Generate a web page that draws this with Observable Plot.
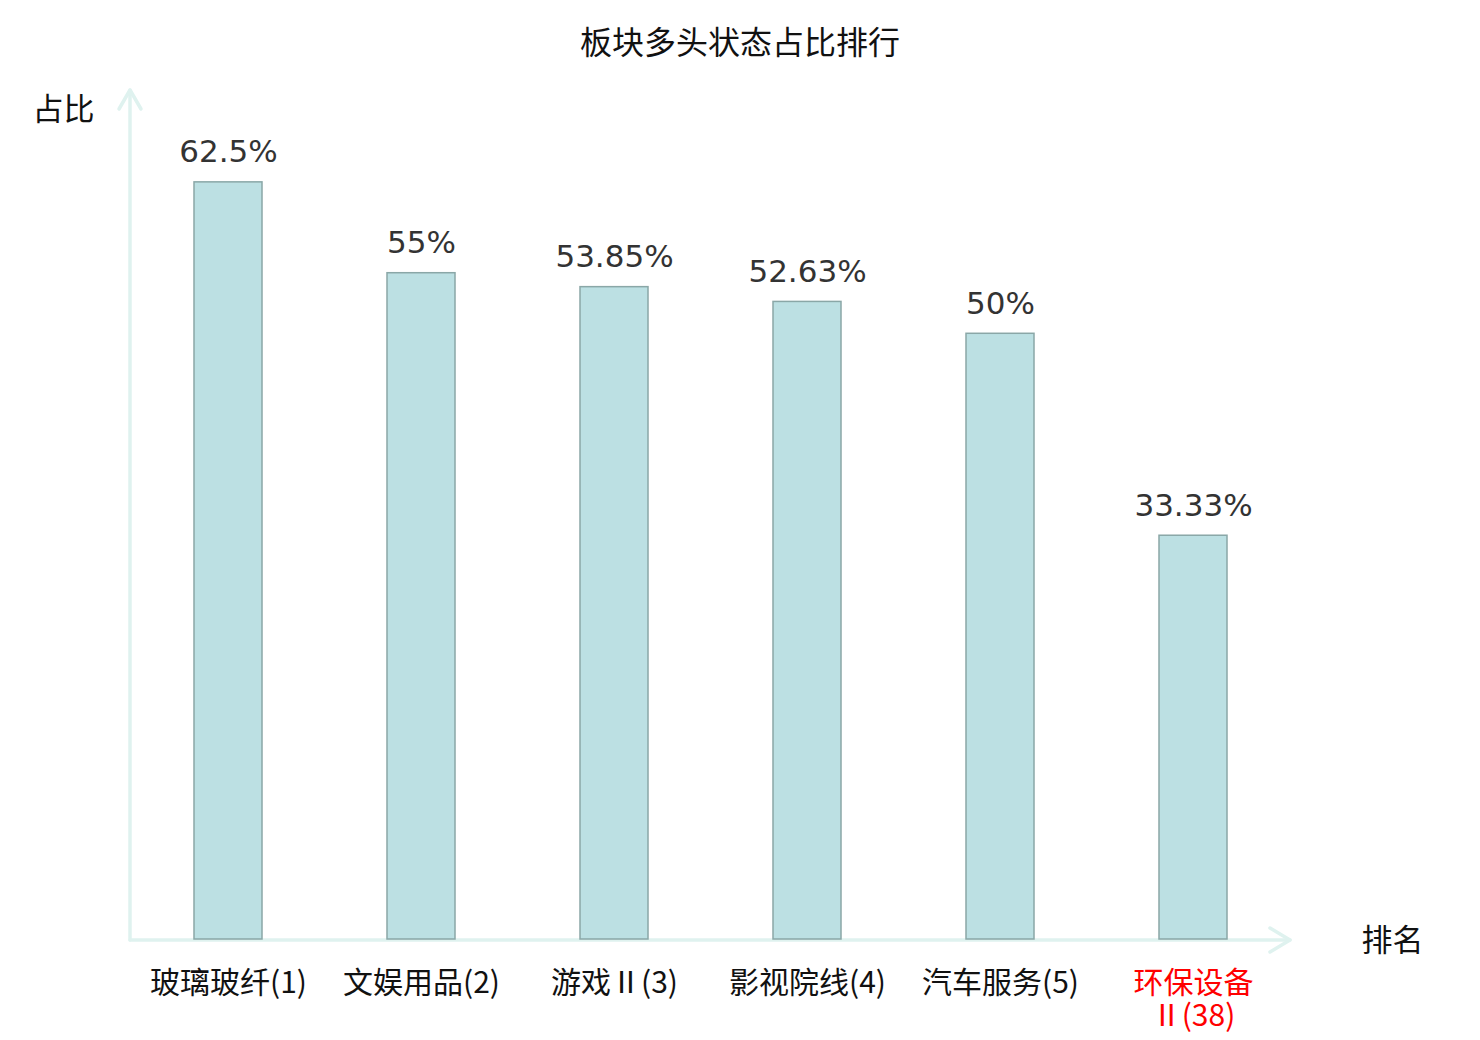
<!DOCTYPE html>
<html>
<head>
<meta charset="utf-8">
<script src="https://cdn.jsdelivr.net/npm/d3@7"></script>
<script src="https://cdn.jsdelivr.net/npm/@observablehq/plot@0.6"></script>
<style>
  html, body { margin: 0; padding: 0; background: #fff; }
  #title { height: 80px; line-height: 80px; text-align: center; font-family: "Noto Sans CJK SC", sans-serif; font-size: 32px; color: #111; }
  svg { display: block; }
</style>
</head>
<body>
<div id="title">板块多头状态占比排行</div>
<div id="chart"></div>
<script>
const categories = ["玻璃玻纤(1)", "文娱用品(2)", "游戏Ⅱ(3)", "影视院线(4)", "汽车服务(5)", "环保设备\nⅡ(38)"];
const values = [62.5, 55, 53.85, 52.63, 50, 33.33];
const highlighted = ["环保设备\nⅡ(38)"];
const yLabel = "占比";
const xLabel = "排名";

const data = categories.map((c, i) => ({name: c, value: values[i]}));
const axisColor = "#dff2ef";

function axesWithArrows(index, scales, values, dims) {
  const left = dims.marginLeft;
  const right = dims.width - dims.marginRight;
  const top = dims.marginTop - 1;
  const bottom = dims.height - dims.marginBottom + 1;
  const g = d3.create("svg:g")
    .attr("fill", "none")
    .attr("stroke", axisColor)
    .attr("stroke-width", 3.5)
    .attr("stroke-linecap", "round")
    .attr("stroke-linejoin", "round");
  g.append("path").attr("d", `M${left},${bottom}V${top}`);
  g.append("path").attr("d", `M${left - 11},${top + 19}L${left},${top}L${left + 11},${top + 19}`);
  g.append("path").attr("d", `M${left},${bottom}H${right}`);
  g.append("path").attr("d", `M${right - 20},${bottom - 12}L${right},${bottom}L${right - 20},${bottom + 12}`);
  return g.node();
}

const chart = Plot.plot({
  width: 1480,
  height: 960,
  marginLeft: 130,
  marginRight: 190,
  marginTop: 11,
  marginBottom: 101,
  x: {domain: categories, paddingInner: 0.65, paddingOuter: 0.325, axis: null},
  y: {domain: [0, 70], axis: null},
  marks: [
    axesWithArrows,
    Plot.barY(data, {x: "name", y: "value", fill: "#bce0e3", stroke: "#8aa7a7", strokeWidth: 1.5}),
    Plot.text(data, {x: "name", y: "value", text: d => `${d.value}%`, dy: -30, fontSize: 31, fill: "#333", fontFamily: "DejaVu Sans"}),
    Plot.text(data, {x: "name", y: () => 0, text: "name", lineAnchor: "top", dy: 30, lineHeight: 1.1,
      fontSize: 30, fontFamily: "Noto Sans CJK SC",
      fill: d => highlighted.includes(d.name) ? "#ff0000" : "#111"}),
    Plot.text([yLabel], {frameAnchor: "top-left", textAnchor: "middle", lineAnchor: "middle", dx: -67, dy: 19, fontSize: 31, fill: "#111", fontFamily: "Noto Sans CJK SC"}),
    Plot.text([xLabel], {frameAnchor: "bottom-right", textAnchor: "middle", lineAnchor: "middle", dx: 102, dy: 2, fontSize: 31, fill: "#111", fontFamily: "Noto Sans CJK SC"})
  ]
});
document.getElementById("chart").appendChild(chart);
</script>
</body>
</html>
